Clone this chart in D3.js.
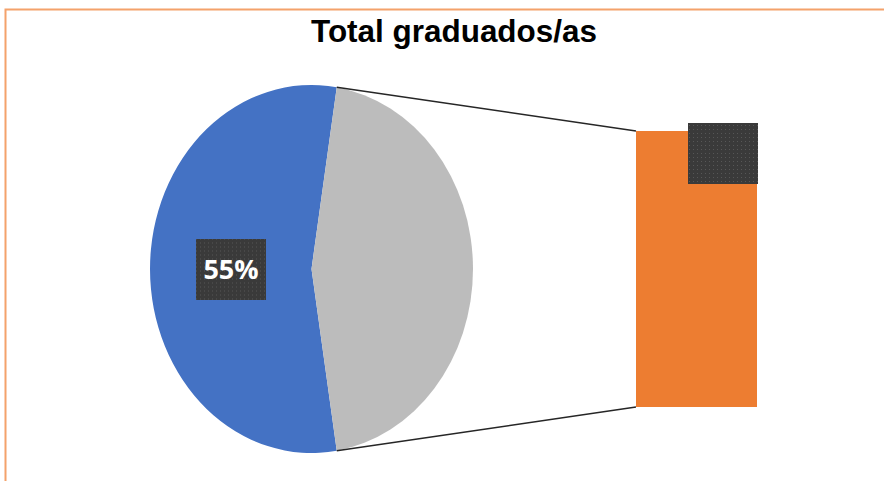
<!DOCTYPE html>
<html>
<head>
<meta charset="utf-8">
<script src="https://cdn.jsdelivr.net/npm/d3@7"></script>
<style>
  body { margin: 0; background: #fff; }
  svg { display: block; }
</style>
</head>
<body>
<div id="chart"></div>
<script>
// Data
var pieCategories = ["Grupo A", "Grupo B"];
var pieValues = [55, 45];
var pieColors = ["#4472C4", "#BCBCBC"];

var barCategories = ["Grupo B"];
var barValues = [45];
var barColor = "#ED7D31";

var titleText = "Total graduados/as";

// Define SVG area dimensions
var svgWidth = 884;
var svgHeight = 481;

var svg = d3.select("#chart")
    .append("svg")
    .attr("width", svgWidth)
    .attr("height", svgHeight);

// dotted fill used behind the data labels
var defs = svg.append("defs");
var pat = defs.append("pattern")
    .attr("id", "dots")
    .attr("width", 4)
    .attr("height", 4)
    .attr("patternUnits", "userSpaceOnUse");
pat.append("rect").attr("width", 4).attr("height", 4).attr("fill", "#3a3a3a");
pat.append("rect").attr("x", 1).attr("y", 1).attr("width", 1).attr("height", 1).attr("fill", "#575757");

// chart area border (cut off at right and bottom)
svg.append("rect")
    .attr("x", 5.5)
    .attr("y", 9.5)
    .attr("width", 900)
    .attr("height", 500)
    .attr("fill", "none")
    .attr("stroke", "#F4A26B")
    .attr("stroke-width", 2);

// title
svg.append("text")
    .attr("x", 454)
    .attr("y", 42)
    .attr("text-anchor", "middle")
    .style("font-family", "'Liberation Sans', Arial, sans-serif")
    .style("font-weight", "bold")
    .style("font-size", "31px")
    .attr("textLength", 286)
    .attr("lengthAdjust", "spacingAndGlyphs")
    .text(titleText);

// pie (drawn as a circle, then stretched into the ellipse)
var cx = 311.5, cy = 269;
var rx = 161.5, ry = 184;
var r = 100;

var total = d3.sum(pieValues);
var secondShare = pieValues[1] / total * 2 * Math.PI;
var pie = d3.pie()
    .sort(null)
    .startAngle(Math.PI / 2 + secondShare / 2)
    .endAngle(Math.PI / 2 + secondShare / 2 + 2 * Math.PI);

var arcs = pie(pieValues);
var arc = d3.arc().innerRadius(0).outerRadius(r);

var pieGroup = svg.append("g")
    .attr("transform", `translate(${cx}, ${cy}) scale(${rx / r}, ${ry / r})`);

pieGroup.selectAll("path")
    .data(arcs)
    .enter()
    .append("path")
    .attr("d", arc)
    .attr("fill", (d, i) => pieColors[i]);

// bar of the split slice
var barX = 636, barW = 121;
var yScale = d3.scaleLinear()
    .domain([0, d3.sum(barValues)])
    .range([407, 131]);

var stack = [];
var acc = 0;
barValues.forEach(function(v, i) {
    stack.push({ y0: acc, y1: acc + v, i: i });
    acc += v;
});

svg.selectAll(".bar")
    .data(stack)
    .enter()
    .append("rect")
    .attr("class", "bar")
    .attr("x", barX)
    .attr("y", d => yScale(d.y1))
    .attr("width", barW)
    .attr("height", d => yScale(d.y0) - yScale(d.y1))
    .attr("fill", barColor);

// connector lines from the split slice edges to the bar
var split = arcs[1];
function edgePoint(a) {
    return [cx + rx * Math.sin(a), cy - ry * Math.cos(a)];
}
var pTop = edgePoint(split.startAngle);
var pBot = edgePoint(split.endAngle);

svg.append("line")
    .attr("x1", pTop[0]).attr("y1", pTop[1])
    .attr("x2", barX).attr("y2", yScale(d3.sum(barValues)))
    .attr("stroke", "#262626")
    .attr("stroke-width", 1.5);

svg.append("line")
    .attr("x1", pBot[0]).attr("y1", pBot[1])
    .attr("x2", barX).attr("y2", yScale(0))
    .attr("stroke", "#262626")
    .attr("stroke-width", 1.5);

// data label on the big slice
var labelGroup = svg.append("g")
    .attr("transform", "translate(231, 269.5)");
labelGroup.append("rect")
    .attr("x", -35)
    .attr("y", -30.5)
    .attr("width", 70)
    .attr("height", 61)
    .attr("fill", "url(#dots)");
labelGroup.append("text")
    .attr("x", 0)
    .attr("y", 2)
    .attr("text-anchor", "middle")
    .attr("dominant-baseline", "middle")
    .style("font-family", "'Open Sans', sans-serif")
    .style("font-weight", "bold")
    .style("font-size", "27px")
    .attr("fill", "#fff")
    .text(d3.format(".0%")(pieValues[0] / total));

// data label box on the bar
svg.append("rect")
    .attr("x", 688)
    .attr("y", 123)
    .attr("width", 70)
    .attr("height", 61)
    .attr("fill", "url(#dots)");
</script>
</body>
</html>
